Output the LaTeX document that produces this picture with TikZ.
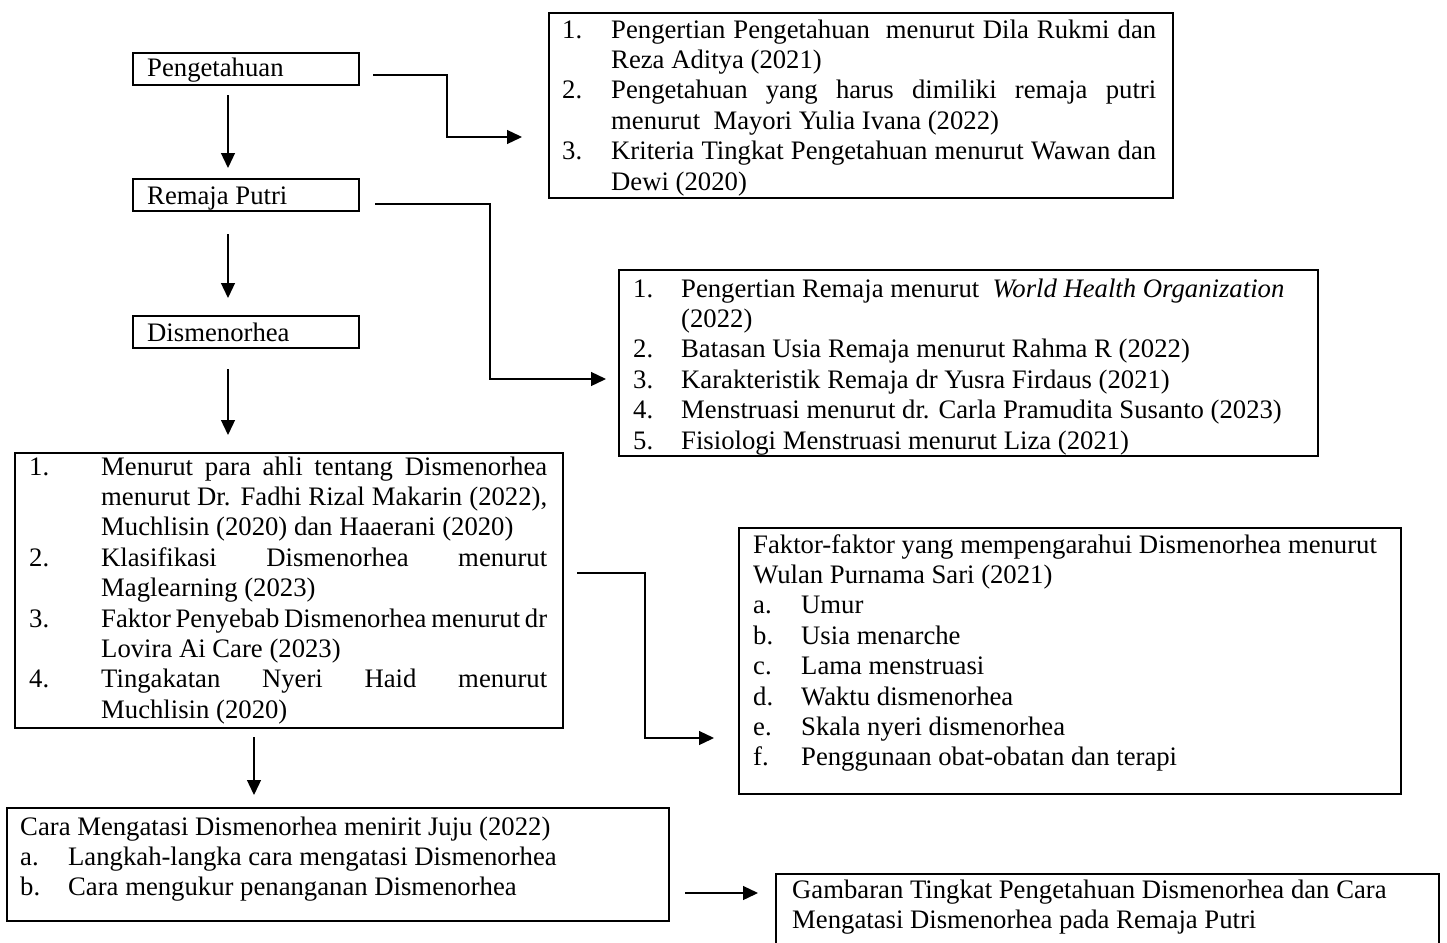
\documentclass[tikz,border=0pt]{standalone}
\usepackage{fontspec}
\setmainfont{Liberation Serif}
\usetikzlibrary{arrows.meta,calc}
\newcommand{\nb}[2]{\makebox[#1][l]{#2}}
\newcommand{\js}[2]{\makebox[#1][s]{#2}}
\begin{document}
\begin{tikzpicture}[x=1pt,y=-1pt,
  box/.style={draw,line width=2pt,inner sep=0pt,anchor=north west},
  txt/.style={inner sep=0pt,anchor=base west,font=\fontsize{26.7}{30.4}\selectfont},
  conn/.style={line width=1.3pt,-{Triangle[length=15pt,width=14pt]}}]
\useasboundingbox (0,0) rectangle (1447,942);
\clip (0,0) rectangle (1447,942);

% small boxes
\node[box,minimum width=226pt,minimum height=32pt] (pk) at (132,52) {};
\node[box,minimum width=226pt,minimum height=32pt] (rp) at (132,178) {};
\node[box,minimum width=226pt,minimum height=32pt] (dm) at (132,315) {};
\node[txt] (pkt) at (147,77) {Pengetahuan};
\node[txt] (rpt) at (147,204) {Remaja Putri};
\node[txt] (dmt) at (147,341) {Dismenorhea};

% big boxes
\node[box,minimum width=624pt,minimum height=185pt] (b1) at (548,12) {};
\node[box,minimum width=699pt,minimum height=186pt] (b2) at (618,269) {};
\node[box,minimum width=548pt,minimum height=275pt] (b3) at (14,452) {};
\node[box,minimum width=662pt,minimum height=266pt] (b4) at (738,527) {};
\node[box,minimum width=662pt,minimum height=113pt] (b5) at (6,807) {};
\node[box,minimum width=663pt,minimum height=100pt] (b6) at (775,873) {};

% texts
\node[txt] (t1) at (562,38) {\begin{tabular}[t]{@{}l@{}l@{}}
\nb{49pt}{1.} & \js{545pt}{Pengertian Pengetahuan\ \ menurut Dila Rukmi dan}\\
 & Reza Aditya (2021)\\
2. & \js{545pt}{Pengetahuan yang harus dimiliki remaja putri}\\
 & menurut\ \ Mayori Yulia Ivana (2022)\\
3. & \js{545pt}{Kriteria Tingkat Pengetahuan menurut Wawan dan}\\
 & Dewi (2020)
\end{tabular}};

\node[txt] (t2) at (633,297) {\begin{tabular}[t]{@{}l@{}l@{}}
\nb{48pt}{1.} & Pengertian Remaja menurut\ \ \textit{World Health Organization}\\
 & (2022)\\
2. & Batasan Usia Remaja menurut Rahma R (2022)\\
3. & Karakteristik Remaja dr Yusra Firdaus (2021)\\
4. & Menstruasi menurut dr. Carla Pramudita Susanto (2023)\\
5. & Fisiologi Menstruasi menurut Liza (2021)
\end{tabular}};

\node[txt] (t3) at (29,475) {\begin{tabular}[t]{@{}l@{}l@{}}
\nb{72pt}{1.} & \js{446pt}{Menurut para ahli tentang Dismenorhea}\\
 & \js{446pt}{menurut Dr. Fadhi Rizal Makarin (2022),}\\
 & Muchlisin (2020) dan Haaerani (2020)\\
2. & \js{446pt}{Klasifikasi Dismenorhea menurut}\\
 & Maglearning (2023)\\
3. & \js{446pt}{Faktor Penyebab Dismenorhea menurut dr}\\
 & Lovira Ai Care (2023)\\
4. & \js{446pt}{Tingakatan Nyeri Haid menurut}\\
 & Muchlisin (2020)
\end{tabular}};

\node[txt] (t4) at (753,553) {\begin{tabular}[t]{@{}l@{}l@{}}
\multicolumn{2}{@{}l@{}}{Faktor-faktor yang mempengarahui Dismenorhea menurut}\\
\multicolumn{2}{@{}l@{}}{Wulan Purnama Sari (2021)}\\
\nb{48pt}{a.} & Umur\\
b. & Usia menarche\\
c. & Lama menstruasi\\
d. & Waktu dismenorhea\\
e. & Skala nyeri dismenorhea\\
f. & Penggunaan obat-obatan dan terapi
\end{tabular}};

\node[txt] (t5) at (20,835) {\begin{tabular}[t]{@{}l@{}l@{}}
\multicolumn{2}{@{}l@{}}{Cara Mengatasi Dismenorhea menirit Juju (2022)}\\
\nb{48pt}{a.} & Langkah-langka cara mengatasi Dismenorhea\\
b. & Cara mengukur penanganan Dismenorhea
\end{tabular}};

\node[txt] (t6) at (792,898) {\begin{tabular}[t]{@{}l@{}}
Gambaran Tingkat Pengetahuan Dismenorhea dan Cara\\
Mengatasi Dismenorhea pada Remaja Putri
\end{tabular}};

% vertical connectors
\draw[conn] ($(pk.south)+(-18,9)$) -- ($(rp.north)+(-18,-10)$);
\draw[conn] ($(rp.south)+(-18,22)$) -- ($(dm.north)+(-18,-17)$);
\draw[conn] ($(dm.south)+(-18,20)$) -- ($(b3.north)+(-61,-17)$);
\draw[conn] ($(b3.south)+(-35,8)$) -- ($(b5.north)+(-84,-12)$);

% elbow connectors
\draw[conn] ($(pk.east)+(13,6)$) -| ($(b1.west)+(-101,31.5)$) -- ($(b1.west)+(-26,31.5)$);
\draw[conn] ($(rp.east)+(15,9)$) -| ($(b2.west)+(-128,16)$) -- ($(b2.west)+(-12,16)$);
\draw[conn] ($(b3.east)+(13,-17.5)$) -| ($(b4.west)+(-93,77)$) -- ($(b4.west)+(-24,77)$);
\draw[conn] ($(b5.east)+(15,28.5)$) -- ($(b6.west)+(-17,-31)$);
\end{tikzpicture}
\end{document}
